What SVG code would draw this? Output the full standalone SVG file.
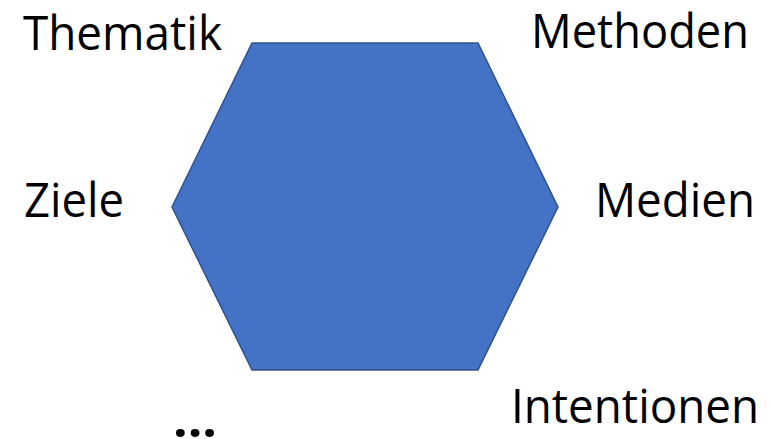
<svg xmlns="http://www.w3.org/2000/svg" width="771" height="439" viewBox="0 0 771 439">
<style>
.lbl{font-family:"Open Sans","Liberation Sans",sans-serif;font-size:48px;fill:#000}
.hex{fill:#4472C4;stroke:#2F528F;stroke-width:1.5}
</style>
<rect width="771" height="439" fill="#fff"/>
<g id="hexagon">
<polygon class="hex" points="252,43 478,43 558,207 478,370 252,370 172,207"/>
</g>
<g id="connectors"></g>
<g id="thematik"><text class="lbl" x="23" y="50" textLength="199" lengthAdjust="spacingAndGlyphs">Thematik</text></g>
<g id="methoden"><text class="lbl" x="531" y="48" textLength="218" lengthAdjust="spacingAndGlyphs">Methoden</text></g>
<g id="ziele"><text class="lbl" x="24" y="217" textLength="100" lengthAdjust="spacingAndGlyphs">Ziele</text></g>
<g id="medien"><text class="lbl" x="595" y="217" textLength="160" lengthAdjust="spacingAndGlyphs">Medien</text></g>
<g id="intentionen"><text class="lbl" x="511" y="423" textLength="248" lengthAdjust="spacingAndGlyphs">Intentionen</text></g>
<g id="ellipsis"><text class="lbl" x="173" y="437" font-weight="bold" font-size="52" textLength="44" lengthAdjust="spacingAndGlyphs">...</text></g>
</svg>
